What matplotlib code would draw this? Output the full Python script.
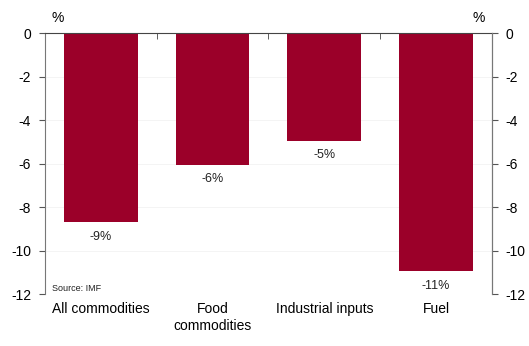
import matplotlib
matplotlib.use("Agg")
import matplotlib.pyplot as plt
import numpy as np

plt.rcParams['font.family'] = ['Liberation Sans', 'DejaVu Sans']
plt.rcParams['axes.unicode_minus'] = False

# data
categories = ['All commodities', 'Food\ncommodities', 'Industrial inputs', 'Fuel']
values = [-8.7, -6.05, -4.95, -10.95]
labels = ['-9%', '-6%', '-5%', '-11%']
bar_color = '#9B0029'

fig = plt.figure(figsize=(5.29, 3.46), dpi=100)
ax = fig.add_axes([0.085, 0.150, 0.845, 0.7546])

x = np.arange(len(categories))
ax.bar(x, values, width=0.66, color=bar_color, zorder=3)

for xi, v, lab in zip(x, values, labels):
    ax.annotate(lab, (xi, v), xytext=(0, -6), textcoords='offset points',
                ha='center', va='top', fontsize=9, color='#222222')

ax.set_xlim(-0.5, len(categories) - 0.5)
ax.set_ylim(-12, 0)
ax.set_yticks(np.arange(-12, 1, 2))
ax.tick_params(axis='y', labelsize=10, length=4, color='#555555', pad=6)

# category axis at zero line on top
ax.spines['bottom'].set_visible(False)
ax.spines['top'].set_color('#444444')
ax.spines['top'].set_zorder(4)
ax.spines['left'].set_color('#777777')
ax.spines['right'].set_color('#777777')
ax.set_xticks(x)
ax.set_xticklabels(categories, fontsize=10)
ax.tick_params(axis='x', length=0, pad=6)
ax.set_xticks(np.arange(0.5, len(categories) - 0.5, 1), minor=True)
ax.tick_params(axis='x', which='minor', top=True, bottom=False, direction='in', length=4, color='#444444')

for yv in np.arange(-12, 0, 2):
    ax.axhline(yv, color='#f2f2f2', linewidth=0.6, zorder=1)

ax2 = ax.twinx()
ax2.set_ylim(-12, 0)
ax2.set_yticks(np.arange(-12, 1, 2))
ax2.tick_params(axis='y', labelsize=10, length=4, color='#555555', pad=6)
for s in ['top', 'bottom', 'left']:
    ax2.spines[s].set_visible(False)
ax2.spines['right'].set_color('#777777')

fig.text(58 / 529, 1 - 18 / 346, '%', fontsize=10, ha='center', va='center')
fig.text(479 / 529, 1 - 18 / 346, '%', fontsize=10, ha='center', va='center')

ax.text(0.015, 0.005, 'Source: IMF', transform=ax.transAxes, fontsize=6.5,
        ha='left', va='bottom', color='#222222')

fig.savefig('out.png', dpi=100)
